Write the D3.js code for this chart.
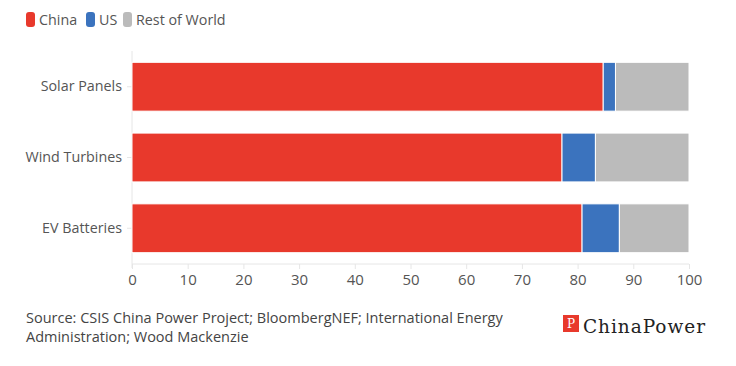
<!DOCTYPE html>
<html><head><meta charset="utf-8">
<script src="https://cdn.jsdelivr.net/npm/d3@7"></script>
<style>body{margin:0;background:#fff;} svg{display:block;font-family:"Open Sans",sans-serif;}</style>
</head><body><svg id="c" width="736" height="366"></svg>
<script>
const categories = ["Solar Panels", "Wind Turbines", "EV Batteries"];
const seriesNames = ["China", "US", "Rest of World"];
const china = [84.6, 77.2, 80.8];
const us = [2.2, 6.0, 6.7];
const restOfWorld = [13.2, 16.8, 12.5];
const xTicks = [0, 10, 20, 30, 40, 50, 60, 70, 80, 90, 100];
const colors = ["#e8392c", "#3b73be", "#bbbbbb"];

const svg = d3.select("#c");
const x = d3.scaleLinear().domain([0, 100]).range([132, 689]);
const y = d3.scaleBand().domain(categories).range([51, 264]).paddingInner(0.31).paddingOuter(0.16);

const rows = categories.map((c, i) => ({cat: c, China: china[i], US: us[i], "Rest of World": restOfWorld[i]}));
const stack = d3.stack().keys(seriesNames)(rows);

// axis lines
svg.append("line").attr("x1", x(0)).attr("x2", x(0)).attr("y1", 51).attr("y2", 268).attr("stroke", "#e6e6e6");
svg.append("line").attr("x1", x(0)).attr("x2", x(100)).attr("y1", 264).attr("y2", 264).attr("stroke", "#e6e6e6");

const xg = svg.append("g").attr("transform", "translate(0,264)")
  .call(d3.axisBottom(x).tickValues(xTicks).tickSize(5).tickPadding(5));
xg.select(".domain").remove();
xg.selectAll("line").attr("stroke", "#e6e6e6");
xg.selectAll("text").attr("fill", "#555").attr("font-size", 15).attr("font-family", "Open Sans, sans-serif");

const yg = svg.append("g").attr("transform", `translate(${x(0)},0)`)
  .call(d3.axisLeft(y).tickSize(5).tickPadding(5));
yg.select(".domain").remove();
yg.selectAll("line").attr("stroke", "#e6e6e6");
yg.selectAll("text").attr("fill", "#555").attr("font-size", 14.3).attr("font-family", "Open Sans, sans-serif");

svg.append("g").selectAll("g").data(stack).join("g")
  .attr("fill", (d, i) => colors[i])
  .selectAll("rect").data(d => d).join("rect")
  .attr("x", d => x(d[0]))
  .attr("width", d => x(d[1]) - x(d[0]))
  .attr("y", d => y(d.data.cat))
  .attr("height", y.bandwidth())
  .attr("stroke", "#fff").attr("stroke-width", 1);

// legend
const legendX = [26, 86, 123];
const lg = svg.append("g");
seriesNames.forEach((s, i) => {
  lg.append("rect").attr("x", legendX[i]).attr("y", 12).attr("width", 9).attr("height", 15).attr("rx", 3).attr("fill", colors[i]);
  lg.append("text").attr("x", legendX[i] + 13).attr("y", 25).text(s).attr("font-size", 14.3).attr("fill", "#555");
});

// source
const src = svg.append("text").attr("font-size", 14.5).attr("fill", "#444");
src.append("tspan").attr("x", 26).attr("y", 323).text("Source: CSIS China Power Project; BloombergNEF; International Energy");
src.append("tspan").attr("x", 26).attr("y", 342).text("Administration; Wood Mackenzie");

// logo
const logo = svg.append("g");
logo.append("rect").attr("x", 563).attr("y", 315).attr("width", 16).attr("height", 17).attr("fill", "#e8392c");
logo.append("text").attr("x", 571).attr("y", 328).attr("text-anchor", "middle").attr("font-size", 12).attr("fill", "#fff").attr("font-family", "DejaVu Serif, serif").text("P");
logo.append("text").attr("x", 583).attr("y", 333).attr("font-size", 18.5).attr("fill", "#222").attr("font-family", "DejaVu Serif, serif").attr("textLength", 122).text("ChinaPower");
</script></body></html>
